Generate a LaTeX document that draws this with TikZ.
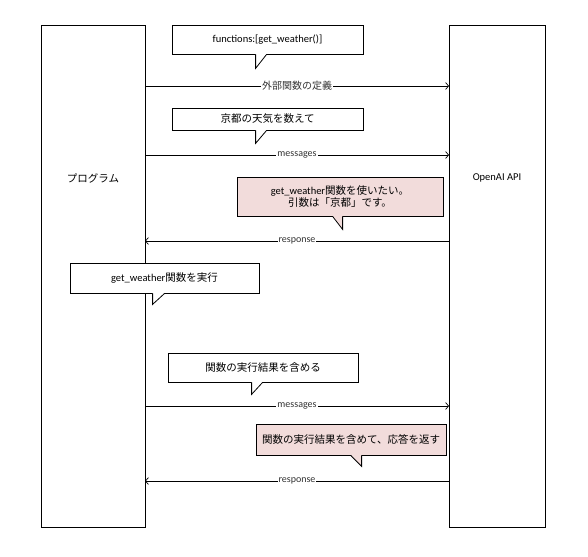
\documentclass[tikz,border=0pt]{standalone}
\usepackage{fontspec}
\setmainfont{Carlito}
\newfontfamily\jp{Noto Sans CJK JP}
\usetikzlibrary{positioning,arrows.meta,calc}
\definecolor{memo}{HTML}{F2DCDB}

\begin{document}
\begin{tikzpicture}[
    x=1pt, y=-1pt,
    font=\fontsize{10.5}{12}\selectfont,
    actor/.style={draw, line width=0.8pt, minimum height=502pt,
      inner sep=0pt},
    note/.style={draw, line width=0.8pt, fill=white, align=center,
      inner sep=0pt},
    pink/.style={note, fill=memo},
    tail/.style={line width=0.8pt},
    msg/.style={-{Straight Barb[length=3pt,width=7pt]}, line width=0.7pt},
    lbl/.style={fill=white, inner sep=1pt, text=black!80,
      font=\fontsize{10}{12}\selectfont}
]
\useasboundingbox (0,0) rectangle (588,556);
% lifelines
\node[actor, minimum width=104pt] (prog) at (93,276) {};
\node[actor, minimum width=96pt]  (api)  at (497,276) {};
\node (progname) at (93,178)  {\jp プログラム};
\node (apiname)  at (497,178) {OpenAI API};
% arrow end points on both boxes
\foreach \i/\y in {1/86, 2/155, 3/241, 4/406, 5/481} {
  \coordinate (p\i) at (145,\y);
  \coordinate (a\i) at (449,\y);
}
\draw[msg] (p1) -- node[lbl]{\jp 外部関数の定義} (a1);
\draw[msg] (p2) -- node[lbl]{messages} (a2);
\draw[msg] (a3) -- node[lbl]{response} (p3);
\draw[msg] (p4) -- node[lbl]{messages} (a4);
\draw[msg] (a5) -- node[lbl]{response} (p5);
% callouts
\node[note, minimum width=191pt, minimum height=29pt] (n1) at (267.5,39.5)
  {functions:[get\_weather()]};
\node[note, minimum width=191pt, minimum height=22pt] (n2) at (267.5,119)
  {\jp 京都の天気を数えて};
\node[pink, minimum width=206pt, minimum height=39pt,
      font=\fontsize{10.5}{11.5}\selectfont] (n3) at (340,196.5)
  {get\_weather{\jp 関数を使いたい。}\\{\jp 引数は「京都」です。}};
\node[note, minimum width=189pt, minimum height=30pt] (n4) at (164.5,278)
  {get\_weather{\jp 関数を実行}};
\node[note, minimum width=190pt, minimum height=29pt] (n5) at (263,367.5)
  {\jp 関数の実行結果を含める};
\node[pink, minimum width=190pt, minimum height=31pt] (n6) at (351,439.5)
  {\jp 関数の実行結果を含めて、応答を返す};
% pointers under the callouts
\foreach \n/\a/\t/\b/\d/\c in {n1/84/84/95/14/white, n2/84/84/95/13/white,
    n3/96/106/106/13/memo, n4/83/83/95/11/white, n5/84/84/95/12/white,
    n6/95/106/106/11/memo} {
  \fill[\c] ($(\n.south west)+(\a,-0.6)$) -- ($(\n.south west)+(\t,\d)$)
    -- ($(\n.south west)+(\b,-0.6)$) -- cycle;
  \draw[tail] ($(\n.south west)+(\a,0)$) -- ($(\n.south west)+(\t,\d)$)
    -- ($(\n.south west)+(\b,0)$);
}
\end{tikzpicture}
\end{document}
